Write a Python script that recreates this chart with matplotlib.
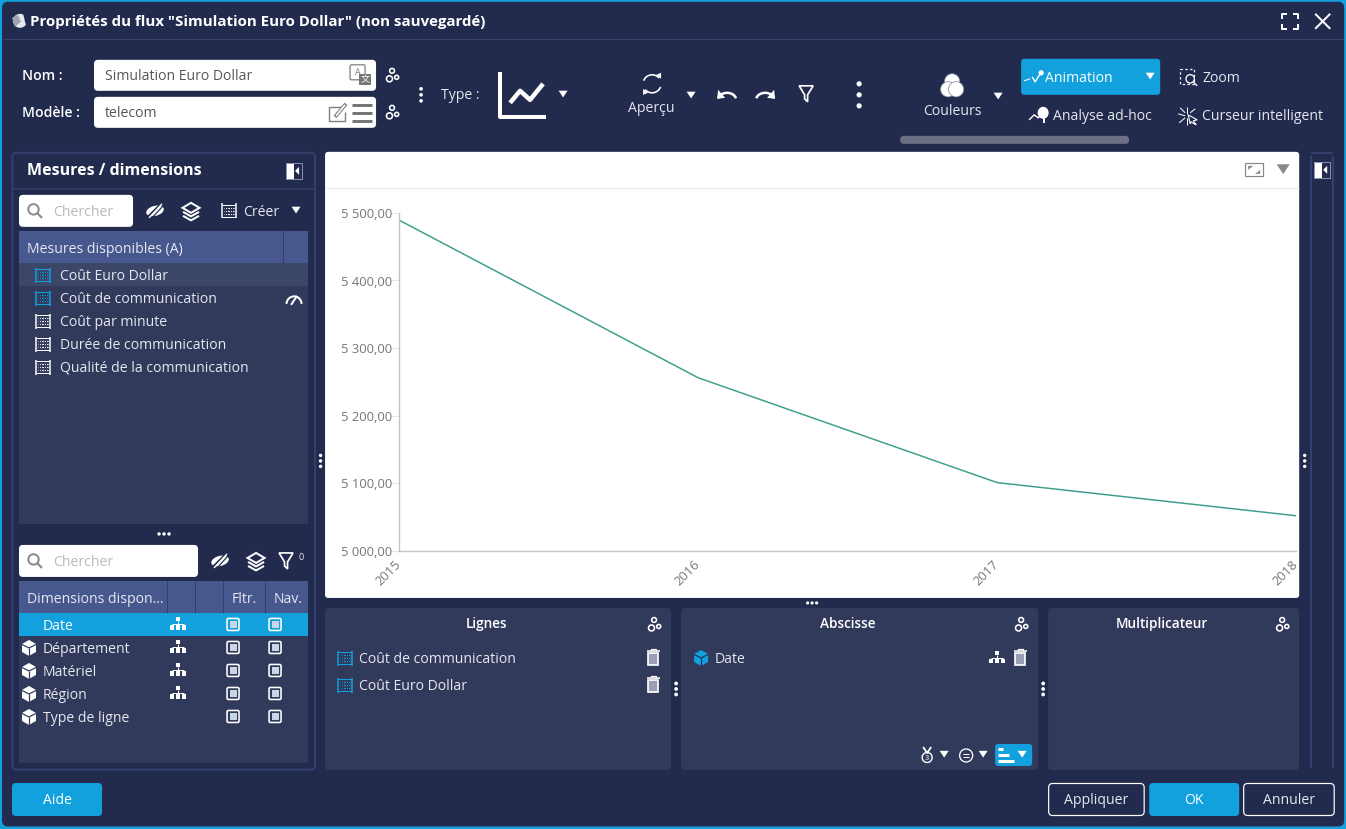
import matplotlib
matplotlib.use("Agg")
import matplotlib.pyplot as plt
from matplotlib.patches import FancyBboxPatch, Rectangle, Circle, Polygon, Arc, Ellipse
from matplotlib.transforms import ScaledTranslation

# ---- data ----
years = ["2015", "2016", "2017", "2018"]
cout_euro_dollar = [5489, 5256, 5101, 5052]
y_ticks = [5000, 5100, 5200, 5300, 5400, 5500]
y_labels = ["5 000,00", "5 100,00", "5 200,00", "5 300,00", "5 400,00", "5 500,00"]
mesures = ["Coût Euro Dollar", "Coût de communication", "Coût par minute",
           "Durée de communication", "Qualité de la communication"]
dimensions = ["Date", "Département", "Matériel", "Région", "Type de ligne"]

plt.rcParams['font.family'] = ['Open Sans', 'DejaVu Sans']
W, H = 1346, 829
BG = '#222b4d'; PANEL = '#323a5c'; HEAD = '#47588f'; BLUE = '#12a1dd'
EDGE = '#33406e'; WHITE = '#ffffff'; LT = '#e6e8ef'; GREY = '#7a7674'

fig = plt.figure(figsize=((W+0.2)/100, (H+0.2)/100), dpi=100, facecolor=BG)
ui = fig.add_axes([0, 0, 1, 1]); ui.set_xlim(0, W); ui.set_ylim(H, 0); ui.axis('off')


def box(x0, y0, x1, y1, fc=PANEL, ec='none', r=3, lw=0, z=1):
    ui.add_patch(FancyBboxPatch((x0, y0), x1-x0, y1-y0, boxstyle=f"round,pad=0,rounding_size={r}",
                                fc=fc, ec=ec, lw=lw*0.72, zorder=z))


def rect(x0, y0, x1, y1, fc=PANEL, z=2):
    ui.add_patch(Rectangle((x0, y0), x1-x0, y1-y0, fc=fc, ec='none', zorder=z))


def T(x, y, s, px=14, c=LT, w='normal', ha='left', z=6):
    return ui.text(x, y+1, s, fontsize=px*0.72, color=c, fontweight=w, ha=ha, va='center', zorder=z)


def L(xs, ys, c=WHITE, lw=1.5, z=5):
    ui.plot(xs, ys, color=c, lw=lw*0.72, zorder=z, solid_capstyle='butt', clip_on=False)


def tri(x, y, s=4.5, c=WHITE):
    ui.add_patch(Polygon([(x-s, y-s*0.7), (x+s, y-s*0.7), (x, y+s*0.8)], fc=c, ec='none', zorder=5))


def vdots(x, y, gap=6, r=2, c=WHITE):
    for d in (-gap, 0, gap):
        ui.add_patch(Circle((x, y+d), r, fc=c, ec='none', zorder=7))


def hdots(x, y, gap=5, r=1.7, c=WHITE):
    for d in (-gap, 0, gap):
        ui.add_patch(Circle((x+d, y), r, fc=c, ec='none', zorder=7))


def gears(x, y, c=WHITE):
    for dx, dy, r in ((0, -5, 2.4), (-2.6, 3, 3), (4.6, 1.5, 2)):
        ui.add_patch(Circle((x+dx, y+dy), r, fc='none', ec=c, lw=1.6*0.72, zorder=5))


def abacus(x, y, c=WHITE):
    L([x-7, x-7], [y-7.5, y+7.5], c, 1.5); L([x+7, x+7], [y-7.5, y+7.5], c, 1.5)
    for d in (-6, 6):
        L([x-7, x+7], [y+d, y+d], c, 1)
    for d in (-3, 0, 3):
        L([x-5, x+5], [y+d, y+d], c, 1.1)
        ui.plot([x-4.5, x-2.5, x+1, x+3], [y+d]*4, ls='none', marker='s', ms=0.8, mew=0, color=BG, zorder=6)


def cube(x, y, fc=WHITE, lc=PANEL):
    ui.add_patch(Polygon([(x, y-8), (x+7, y-4), (x+7, y+4), (x, y+8), (x-7, y+4), (x-7, y-4)],
                         fc=fc, ec='none', zorder=5))
    L([x-7, x, x+7], [y-3.5, y, y-3.5], lc, 1.2, 6); L([x, x], [y, y+8], lc, 1.2, 6)


def tree(x, y, c=WHITE):
    rect(x-2, y-7, x+2, y-3, c, 5); L([x, x], [y-3, y+1], c, 1); L([x-6, x+6], [y, y], c, 1)
    for d in (-8, -2, 4):
        rect(x+d, y+1, x+d+4, y+5.5, c, 5)


def check(x, y, c=WHITE):
    box(x-6, y-6, x+6, y+6, fc='none', ec=c, r=1.5, lw=1.6, z=5)
    rect(x-3.5, y-3.5, x+3.5, y+3.5, '#c9d6ea', 5)


def trash(x, y):
    L([x-6.5, x+6.5], [y-5.5, y-5.5], WHITE, 1.6); L([x-2.5, x-2.5, x+2.5, x+2.5], [y-5.5, y-8, y-8, y-5.5], WHITE, 1.2)
    ui.add_patch(Rectangle((x-5, y-3.5), 10, 11.5, fc='#9a9fb3', ec=WHITE, lw=1.7*.72, zorder=5))


def glass(x, y, c='#8c8c8c'):
    ui.add_patch(Circle((x-1.5, y-1.5), 5.2, fc='none', ec=c, lw=2*.72, zorder=7))
    L([x+2.2, x+7], [y+2.2, y+7], c, 2.2, 7)


def eye(x, y):
    ui.add_patch(Ellipse((x, y), 18, 10, angle=-15, fc=WHITE, ec='none', zorder=5))
    L([x-8, x+6], [y+7, y-7], BG, 2.2, 6); L([x-3, x+9], [y+7, y-6], BG, 1.2, 6)
    L([x-6, x+7], [y+7, y-7], WHITE, 1.4, 7)


def layers(x, y):
    for d in (7, 3):
        L([x-8, x, x+8], [y+d-2, y+d+2.5, y+d-2], WHITE, 2)
    ui.add_patch(Polygon([(x-8.5, y-3), (x, y-8), (x+8.5, y-3), (x, y+2)], fc=BG, ec=WHITE, lw=2*.72, zorder=6))


def funnel(x, y, c=WHITE):
    ui.add_patch(Polygon([(x-7, y-8), (x+7, y-8), (x+1.5, y+1), (x+1.5, y+8), (x-1.5, y+5), (x-1.5, y+1)],
                         fc='none', ec=c, lw=1.7*.72, zorder=5))


def collapse(x, y):
    rect(x-8, y-8, x, y+8, WHITE, 5)
    ui.add_patch(Rectangle((x-8, y-8), 16, 16, fc='none', ec='#8b93ad', lw=.7, zorder=5))
    ui.add_patch(Polygon([(x+5, y-4), (x+5, y+4), (x+1, y)], fc=WHITE, ec='none', zorder=5))


# ---- window ----
rect(0, 0, W, H, BLUE, 0)
box(2, 2, W-2, H-2.5, fc=BG, r=6, z=0.5)
L([3, W-3], [39.5, 39.5], '#38436f', 1)
ui.add_patch(Circle((20, 21), 7, fc=LT, ec='none', zorder=5))
ui.add_patch(Polygon([(12, 18), (18, 15), (21, 22), (15, 27)], fc='#9ea3b5', ec='none', zorder=6))
ui.add_patch(Polygon([(23, 13), (29, 17), (27, 28), (25, 22)], fc=BG, ec='none', zorder=6))
T(30, 21, 'Propriétés du flux "Simulation Euro Dollar" (non sauvegardé)', 15, WHITE, 'bold')
for sx, sy in ((1282, 14), (1298, 14), (1282, 29), (1298, 29)):
    dx = 5 if sx < 1290 else -5; dy = 5 if sy < 20 else -5
    L([sx+dx, sx, sx], [sy, sy, sy+dy], WHITE, 2)
L([1315, 1330], [14, 29], WHITE, 2); L([1330, 1315], [14, 29], WHITE, 2)

# ---- top toolbar ----
T(22, 75, 'Nom :', 14, WHITE, 'semibold'); T(22, 112, 'Modèle :', 14, WHITE, 'semibold')
box(94, 60, 376, 91, WHITE, r=4); box(94, 97, 376, 128, WHITE, r=4)
T(105, 75.5, 'Simulation Euro Dollar', 14, '#555555'); T(105, 112.5, 'telecom', 14, '#555555')
box(350, 65, 365, 80, fc=WHITE, ec='#777777', r=1.5, lw=1.2, z=3); T(357.5, 71, 'A', 9, '#777777', ha='center')
rect(359, 74, 371, 85, '#777777', 4)
ui.text(365, 79.5, '文', fontsize=6.5, color=WHITE, ha='center', va='center', zorder=6,
        family=['Noto Sans CJK SC', 'DejaVu Sans'])
L([341, 329, 329, 345, 345], [107, 107, 121, 121, 112], '#808080', 1.4); L([335, 346], [117, 104], '#808080', 3.8); L([336, 345], [116, 105], WHITE, 1.6, 6)
for yy in (105, 113, 121):
    L([352, 372], [yy, yy], '#777777', 3)
gears(392, 76); gears(392, 113)
vdots(421, 95, 6, 1.8)
T(441, 94, 'Type :', 14)
L([500, 500, 546], [72, 117, 117], WHITE, 4)
L([510, 520, 530, 543], [103, 91, 100, 84], WHITE, 4.5)
tri(563, 94)
# Aperçu
ui.add_patch(Arc((652, 84), 18, 18, theta1=200, theta2=320, ec=WHITE, lw=1.6*.72, zorder=5))
ui.add_patch(Arc((652, 84), 18, 18, theta1=20, theta2=140, ec=WHITE, lw=1.6*.72, zorder=5))
ui.add_patch(Polygon([(656, 75), (661, 73), (661, 79)], fc=WHITE, zorder=5))
ui.add_patch(Polygon([(648, 93), (643, 95), (643, 89)], fc=WHITE, zorder=5))
T(651, 107, 'Aperçu', 14, LT, ha='center')
tri(691, 95)
ui.add_patch(Arc((727, 100), 18, 14, theta1=190, theta2=350, ec=WHITE, lw=2.5*.72, zorder=5))
ui.add_patch(Polygon([(718, 90), (717, 99), (725, 98)], fc=WHITE, zorder=5))
ui.add_patch(Arc((765, 100), 18, 14, theta1=190, theta2=350, ec=WHITE, lw=2.5*.72, zorder=5))
ui.add_patch(Polygon([(774, 90), (775, 99), (767, 98)], fc=WHITE, zorder=5))
funnel(806, 94)
vdots(859, 95, 11, 2.6)
for cx, cy in ((952, 81.5), (948, 89.5), (956, 89.5)):
    ui.add_patch(Circle((cx, cy), 7.6, fc=WHITE, ec='#7a8099', lw=0.5, zorder=5))
T(952, 110, 'Couleurs', 14, LT, ha='center')
tri(998, 96)
box(1021, 59, 1160, 95, BLUE, r=3)
T(1045, 77, 'Animation', 14, WHITE); tri(1150, 76)
L([1024, 1030], [81, 79], WHITE, 1); L([1032, 1035, 1040], [77, 82, 74], WHITE, 1.4)
ui.add_patch(Circle((1041, 73), 2.6, fc=WHITE, zorder=5))
T(1202, 77, 'Zoom', 14)
ui.add_patch(Rectangle((1180, 69), 14, 15, fc='none', ec=WHITE, lw=1.2*.72, ls=(0, (2, 2)), zorder=5))
ui.add_patch(Circle((1190, 79), 4.2, fc=BG, ec=WHITE, lw=1.3*.72, zorder=6)); L([1193, 1197], [82, 86], WHITE, 1.3, 6)
T(1053, 115, 'Analyse ad-hoc', 14)
L([1029, 1034, 1038, 1043], [120, 115, 118, 113], WHITE, 1.4)
ui.add_patch(Ellipse((1043, 113), 11, 12, fc=WHITE, zorder=5)); L([1044, 1044], [118, 123], WHITE, 2)
T(1202, 115, 'Curseur intelligent', 14)
for a, b, c_, d in ((1187, 1187, 107, 114), (1178, 1185, 114, 116), (1180, 1185, 108, 113), (1195, 1190, 109, 113), (1179, 1185, 123, 118), (1187, 1187, 118, 125)):
    L([a, b], [c_, d], WHITE, 1)
ui.add_patch(Polygon([(1188, 115), (1197, 120), (1193, 121), (1196, 125), (1194, 124), (1191, 122), (1190, 124)], fc=BG, ec=WHITE, lw=.8, zorder=6))
box(900, 136, 1129, 144, '#6b7084', r=4)

# ---- left panel ----
box(12.5, 153, 315, 769.5, fc=BG, ec=EDGE, r=4, lw=2)
L([13, 314], [189, 189], EDGE, 1.5)
T(27, 170, 'Mesures / dimensions', 16, WHITE, 'bold')
collapse(294, 171)
box(19, 195, 133, 227, WHITE, r=4); glass(35, 211)
T(53, 211, 'Chercher', 14, '#b9b9b9').set_clip_path(Rectangle((19, 195), 91, 32, transform=ui.transData))
eye(155, 211); layers(191, 211); abacus(229, 211); T(243, 211, 'Créer', 14, LT); tri(296, 210)
rect(19, 231, 308, 524, PANEL, 2); rect(19, 231, 308, 263, HEAD, 3)
L([283, 283], [231, 263], '#33406e', 1)
T(27, 248, 'Mesures disponibles (A)', 14)
rect(19, 263, 308, 286, '#3c4669', 3)
for i, m in enumerate(mesures):
    yy = 275 + 23*i
    abacus(43, yy + 0.5, BLUE if i < 2 else WHITE)
    T(60, yy, m, 14)
ui.add_patch(Arc((294, 304), 15, 15, theta1=180, theta2=360, ec=WHITE, lw=2*.72, zorder=5))
L([291, 297], [305, 296], WHITE, 2)
hdots(164, 534)
box(19, 545, 198, 577, WHITE, r=4); glass(35, 561); T(53, 561, 'Chercher', 14, '#b9b9b9')
eye(220, 561); layers(256, 561); funnel(286, 561); T(298, 556, '0', 9, LT)
rect(19, 581, 308, 763, PANEL, 2); rect(19, 581, 308, 613, HEAD, 3)
for sx in (167, 195, 223, 265):
    L([sx, sx], [581, 613], '#33406e', 1)
T(27, 598, 'Dimensions dispon...', 14); T(232, 598, 'Fltr.', 14); T(274, 598, 'Nav.', 14)
rect(19, 613, 308, 636, BLUE, 3)
for i, d in enumerate(dimensions):
    yy = 625 + 23*i
    T(43, yy, d, 14, WHITE if i == 0 else LT)
    if i:
        cube(29, yy)
    if i < 4:
        tree(178, yy - 0.5)
    check(233, yy - 0.5); check(275, yy - 0.5)

# ---- chart card ----
box(325, 152, 1299, 598, WHITE, r=3)
L([325, 1299], [188.5, 188.5], '#e5e5e5', 1)
ui.add_patch(Rectangle((1245, 163.5), 18, 13, fc='none', ec='#888888', lw=1.2*.72, zorder=5))
ui.add_patch(Polygon([(1248, 166), (1253, 166), (1248, 170)], fc='#888888', zorder=5))
ui.add_patch(Polygon([(1260, 174), (1255, 174), (1260, 170)], fc='#888888', zorder=5))
tri(1283, 169, 6.5, '#888888')

ax = fig.add_axes([399/W, 1-551/H, (1296-399)/W, (551-212.8)/H], facecolor='none')
ax.plot(years, cout_euro_dollar, color='#3f9f8d', lw=1.5*0.72, solid_capstyle='round')
ax.set_xlim(0, 3); ax.set_ylim(5000, 5500)
ax.set_yticks(y_ticks, y_labels)
ax.tick_params(axis='y', length=6, width=0.8, color='#e8e8e8', labelsize=13*0.72, labelcolor=GREY, pad=-0.8, direction='out')
ax.tick_params(axis='x', length=0, labelsize=13*0.72, labelcolor=GREY, pad=5)
shift = ScaledTranslation(-4.5/100, 0, fig.dpi_scale_trans)
for lab in ax.get_xticklabels():
    lab.set(rotation=45, ha='right', va='top', rotation_mode='anchor')
    lab.set_transform(lab.get_transform() + shift)
    lab.set_clip_on(False)
for s in ('top', 'right'):
    ax.spines[s].set_visible(False)
for s in ('left', 'bottom'):
    ax.spines[s].set_color('#c4c4c4'); ax.spines[s].set_linewidth(1.4*.72)

# ---- right rail ----
rect(1311, 153, 1333, 769, BG, 1)
L([1310.5, 1310.5], [156, 768], EDGE, 2); L([1333, 1333], [156, 768], EDGE, 2)
L([1311, 1333], [153.5, 153.5], EDGE, 2)
collapse(1322, 170)

# ---- bottom zones ----
vdots(320.5, 461, 5.5, 1.7); vdots(1304.5, 461, 5.5, 1.7)
hdots(812, 603, 4.5, 1.6)
vdots(676, 689, 5.5, 1.9); vdots(1043, 689, 5.5, 1.9)
for a, b, t, off in ((325, 671, 'Lignes', -12), (681, 1038, 'Abscisse', -11.5), (1048, 1299, 'Multiplicateur', -12)):
    box(a, 608, b, 770, PANEL, r=4)
    T((a+b)/2 + off, 623, t, 13.6, WHITE, 'semibold', ha='center')
    gears(b-17, 625)
for yy, s in ((658, 'Coût de communication'), (685, 'Coût Euro Dollar')):
    abacus(345, yy+.5, BLUE); T(359, yy, s, 14); trash(653, yy-1)
cube(701, 658, BLUE, BG); T(715, 658, 'Date', 14)
tree(997, 658); trash(1020, 657)
ui.add_patch(Circle((927, 757.5), 5, fc='none', ec=WHITE, lw=1.4*.72, zorder=5)); T(927, 757, '3', 7.5, WHITE, ha='center')
L([923, 927, 931], [747, 753, 747], WHITE, 1.8)
tri(944, 754)
ui.add_patch(Circle((966, 755.5), 6.5, fc='none', ec=WHITE, lw=1.3*.72, zorder=5))
L([963, 969], [754, 754], WHITE, 1); L([963, 969], [757, 757], WHITE, 1)
tri(983, 754)
box(995, 744, 1032, 766, BLUE, r=3)
for yy, xe in ((749, 1003), (755, 1009), (761, 1014)):
    L([998, xe], [yy, yy], WHITE, 3)
tri(1022, 754)

# ---- footer buttons ----
box(12, 783, 102, 816, BLUE, r=4); T(57, 799, 'Aide', 14, WHITE, ha='center')
box(1048.5, 783.5, 1144, 815.5, 'none', ec=WHITE, r=4, lw=1.2); T(1096, 799, 'Appliquer', 14, LT, ha='center')
box(1149, 783, 1239, 816, BLUE, r=4); T(1194, 799, 'OK', 14, WHITE, ha='center')
box(1243.5, 783.5, 1334, 815.5, 'none', ec=WHITE, r=4, lw=1.2); T(1289, 799, 'Annuler', 14, LT, ha='center')

fig.savefig('out.png', dpi=100, facecolor=fig.get_facecolor())
